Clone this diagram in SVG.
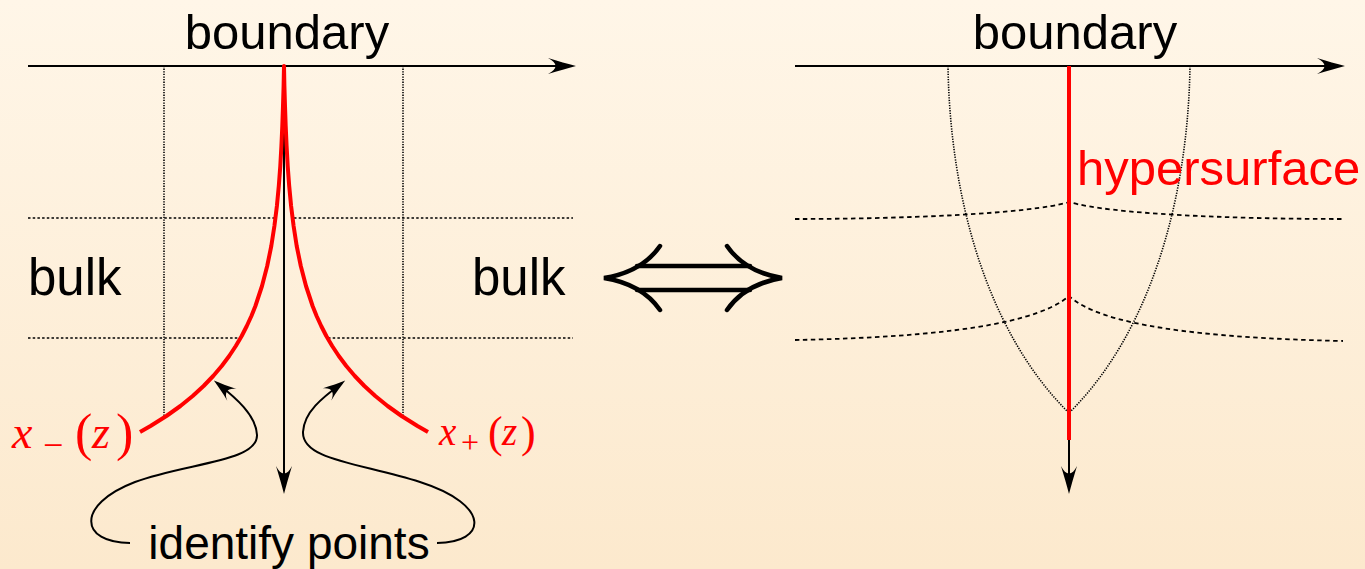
<svg xmlns="http://www.w3.org/2000/svg" width="1365" height="569" viewBox="0 0 1365 569">
<defs>
<linearGradient id="bg" x1="0" y1="0" x2="0" y2="1">
<stop offset="0" stop-color="#fff6e8"/>
<stop offset="1" stop-color="#fce9cd"/>
</linearGradient>
<marker id="big" viewBox="-24 -10 32 20" markerWidth="32" markerHeight="20" refX="0" refY="0" markerUnits="userSpaceOnUse" orient="auto" overflow="visible">
<path d="M6,0 C-2,-2 -12,-5 -22,-8 C-12,-3 -12,3 -22,8 C-12,5 -2,2 6,0 Z" fill="#000"/>
</marker>
<marker id="small" viewBox="-20 -9 26 18" markerWidth="26" markerHeight="18" refX="0" refY="0" markerUnits="userSpaceOnUse" orient="auto" overflow="visible">
<path d="M4,0 C-3,-2 -10,-4 -19,-7.5 C-11,-3 -11,3 -19,7.5 C-10,4 -3,2 4,0 Z" fill="#000"/>
</marker>
<style>
.txt{font-family:"Liberation Sans",Arial,sans-serif;fill:#000}
.math{font-family:"Liberation Serif","Times New Roman",serif;fill:#ff0000}
.axis{stroke:#000;stroke-width:2;fill:none}
.hdot{stroke:#000;stroke-width:1.6;stroke-dasharray:2.5 2.2;fill:none}
.vdot{stroke:#000;stroke-width:1.6;stroke-dasharray:1.3 1.3;fill:none}
.dash{stroke:#000;stroke-width:1.8;stroke-dasharray:4.5 3.5;fill:none}
.red{stroke:#ff0000;stroke-width:4;fill:none;stroke-linejoin:round}
.curve{stroke:#000;stroke-width:2;fill:none}
.dbl{stroke:#000;stroke-width:4.5;fill:none;stroke-linecap:round}
</style>
</defs>
<rect x="0" y="0" width="1365" height="569" fill="url(#bg)"/>

<g id="left-panel">
<line class="vdot" x1="164" y1="66" x2="164" y2="416"/>
<line class="vdot" x1="403" y1="66" x2="403" y2="416"/>
<line class="hdot" x1="28" y1="218" x2="274" y2="218"/>
<line class="hdot" x1="294" y1="218" x2="573" y2="218"/>
<line class="hdot" x1="28" y1="338" x2="239" y2="338"/>
<line class="hdot" x1="328" y1="338" x2="573" y2="338"/>
<line class="axis" x1="28" y1="66" x2="570" y2="66" marker-end="url(#big)"/>
<line class="axis" x1="284" y1="66" x2="284" y2="488" marker-end="url(#big)"/>
<path id="cusp" class="red" d="M140,432 L150.5,426 L166.4,416 L180.4,406 L192.7,396 L203.6,386 L213.2,376 L221.7,366 L229.2,356 L235.8,346 L241.7,336 L246.8,326 L251.4,316 L255.4,306 L262,286 L267.2,266 L271.3,246 L274.4,226 L276.9,206 L278.8,186 L280.3,166 L281.4,146 L282.3,126 L283,106 L283.6,86 L284,66 L284.4,86 L285,106 L285.7,126 L286.6,146 L287.7,166 L289.2,186 L291.1,206 L293.6,226 L296.7,246 L300.8,266 L306,286 L312.6,306 L316.6,316 L321.2,326 L326.3,336 L332.2,346 L338.8,356 L346.3,366 L354.8,376 L364.4,386 L375.3,396 L387.6,406 L401.6,416 L417.5,426 L428,432"/>
<text class="txt" x="287" y="49" font-size="49" text-anchor="middle">boundary</text>
<text class="txt" x="28" y="295" font-size="51">bulk</text>
<text class="txt" x="472" y="295" font-size="51">bulk</text>
<text class="math" y="448" font-size="46"><tspan x="12" font-style="italic">x</tspan><tspan x="43" y="457" font-size="36">−</tspan><tspan x="75" y="450" font-size="52">(</tspan><tspan x="92" y="448" font-style="italic">z</tspan><tspan x="116" y="450" font-size="52">)</tspan></text>
<text class="math" y="445" font-size="39"><tspan x="439" font-style="italic">x</tspan><tspan x="461" y="453" font-size="32">+</tspan><tspan x="488" y="447" font-size="44">(</tspan><tspan x="502" y="445" font-style="italic">z</tspan><tspan x="521" y="447" font-size="44">)</tspan></text>
</g>

<g id="identify">
<text class="txt" x="289" y="559" font-size="46" text-anchor="middle">identify points</text>
</g>

<g id="connectors">
<path class="curve" d="M130,543 C80,543 75,505 135,482 C185,463 258,462 257,435 C256,415 236,398 217,383" marker-end="url(#small)"/>
<path class="curve" d="M437,543 C487,543 492,505 420,482 C360,463 302,460 303,432 C304,412 322,398 342,383" marker-end="url(#small)"/>
</g>

<g id="equivalence">
<path class="dbl" d="M660,246 Q642,272 604,278 Q642,284 660,310"/>
<path class="dbl" d="M727,246 Q745,272 782,278 Q745,284 727,310"/>
<line class="dbl" x1="637" y1="266" x2="750" y2="266"/>
<line class="dbl" x1="637" y1="290" x2="750" y2="290"/>
</g>

<g id="right-panel">
<path class="vdot" d="M948,66 C950,200 988,333 1069,413"/>
<path class="vdot" d="M1190,66 C1188,200 1150,333 1069,413"/>
<path class="dash" d="M795,219 C900,219 1030,214 1069,202 C1110,214 1230,219 1343,219"/>
<path class="dash" d="M795,340 C900,338 1030,330 1069,296 C1100,325 1200,338 1343,341"/>
<line class="axis" x1="795" y1="66" x2="1339" y2="66" marker-end="url(#big)"/>
<line class="axis" x1="1069" y1="66" x2="1069" y2="488" marker-end="url(#big)"/>
<line class="red" x1="1069" y1="66" x2="1069" y2="440"/>
<text class="txt" x="1075" y="49" font-size="49" text-anchor="middle">boundary</text>
<text x="1077" y="185" font-size="49" font-family="'Liberation Sans',Arial,sans-serif" fill="#ff0000">hypersurface</text>
</g>
</svg>
